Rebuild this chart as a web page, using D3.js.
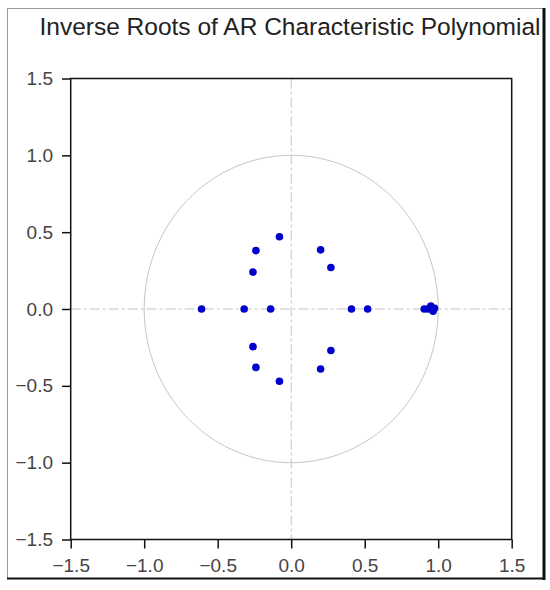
<!DOCTYPE html>
<html>
<head>
<meta charset="utf-8">
<script src="https://cdn.jsdelivr.net/npm/d3@7"></script>
<style>
  html, body { margin: 0; padding: 0; background: #fff; }
  svg { display: block; font-family: "Liberation Sans", Arial, sans-serif; }
</style>
</head>
<body>
<script>
// Inverse roots of the AR characteristic polynomial (real, imaginary parts)
const rootRe = [-0.61, -0.32, -0.14, -0.08, -0.24, -0.26, -0.26, -0.24, -0.08,
                0.20, 0.27, 0.27, 0.20, 0.41, 0.52,
                0.905, 0.93, 0.95, 0.965, 0.975];
const rootIm = [0.0, 0.0, 0.0, 0.47, 0.38, 0.24, -0.245, -0.38, -0.47,
                0.385, 0.27, -0.27, -0.39, 0.0, 0.0,
                0.0, 0.0, 0.02, -0.015, 0.005];
const xTicks = [-1.5, -1.0, -0.5, 0.0, 0.5, 1.0, 1.5];
const yTicks = [-1.5, -1.0, -0.5, 0.0, 0.5, 1.0, 1.5];
const titleText = "Inverse Roots of AR Characteristic Polynomial";

const W = 550, H = 590;
const svg = d3.select("body").append("svg").attr("width", W).attr("height", H);

const x = d3.scaleLinear().domain([-1.5, 1.5]).range([70.7, 511.7]);
const y = d3.scaleLinear().domain([-1.5, 1.5]).range([539.5, 78.5]);

// outer frame
svg.append("rect").attr("x", 7.5).attr("y", 8.5).attr("width", 536).attr("height", 570)
  .attr("fill", "none").attr("stroke", "#9a9a9a").attr("stroke-width", 1);

// title (clipped by the frame like the original)
svg.append("clipPath").attr("id", "frameClip").append("rect")
  .attr("x", 8).attr("y", 9).attr("width", 535).attr("height", 569);
svg.append("text").attr("x", 290).attr("y", 35).attr("text-anchor", "middle")
  .attr("clip-path", "url(#frameClip)")
  .attr("font-size", 24.5).attr("fill", "#222").text(titleText);

svg.append("line").attr("x1", 544).attr("x2", 544).attr("y1", 8).attr("y2", 580)
  .attr("stroke", "#111").attr("stroke-width", 3);
svg.append("line").attr("x1", 7).attr("x2", 545).attr("y1", 578.5).attr("y2", 578.5)
  .attr("stroke", "#111").attr("stroke-width", 2);

// unit circle
const circ = d3.range(0, 361, 1).map(a => [Math.cos(a * Math.PI / 180), Math.sin(a * Math.PI / 180)]);
svg.append("path")
  .attr("d", d3.line().x(d => x(d[0])).y(d => y(d[1]))(circ))
  .attr("fill", "none").attr("stroke", "#c4c4c4").attr("stroke-width", 1);

// zero reference lines
svg.append("line").attr("x1", x(-1.5)).attr("x2", x(1.5)).attr("y1", y(0)).attr("y2", y(0))
  .attr("stroke", "#c4c4c4").attr("stroke-width", 1).attr("stroke-dasharray", "10,3,3,3");
svg.append("line").attr("x1", x(0)).attr("x2", x(0)).attr("y1", y(1.5)).attr("y2", y(-1.5))
  .attr("stroke", "#c4c4c4").attr("stroke-width", 1).attr("stroke-dasharray", "10,3,3,3");

// axes
const fmt = d3.format(".1f");
const xAxis = svg.append("g").attr("transform", `translate(0,${y(-1.5)})`)
  .call(d3.axisBottom(x).tickValues(xTicks).tickFormat(fmt).tickSize(9).tickSizeOuter(0).tickPadding(10));
const yAxis = svg.append("g").attr("transform", `translate(${x(-1.5)},0)`)
  .call(d3.axisLeft(y).tickValues(yTicks).tickFormat(fmt).tickSize(8.7).tickSizeOuter(0).tickPadding(9));
[xAxis, yAxis].forEach(g => {
  g.select(".domain").remove();
  g.selectAll(".tick line").attr("stroke", "#111").attr("stroke-width", 1.5);
  g.selectAll(".tick text").attr("font-size", 19).attr("fill", "#444")
    .attr("font-family", "'Liberation Sans', Arial, sans-serif");
});

// plot box
svg.append("rect").attr("x", x(-1.5)).attr("y", y(1.5))
  .attr("width", x(1.5) - x(-1.5)).attr("height", y(-1.5) - y(1.5))
  .attr("fill", "none").attr("stroke", "#111").attr("stroke-width", 1.5);

// roots
svg.append("g").selectAll("circle").data(rootRe.map((r, i) => [r, rootIm[i]]))
  .join("circle")
  .attr("cx", d => x(d[0])).attr("cy", d => y(d[1])).attr("r", 3.8)
  .attr("fill", "#0000cc");
</script>
</body>
</html>
